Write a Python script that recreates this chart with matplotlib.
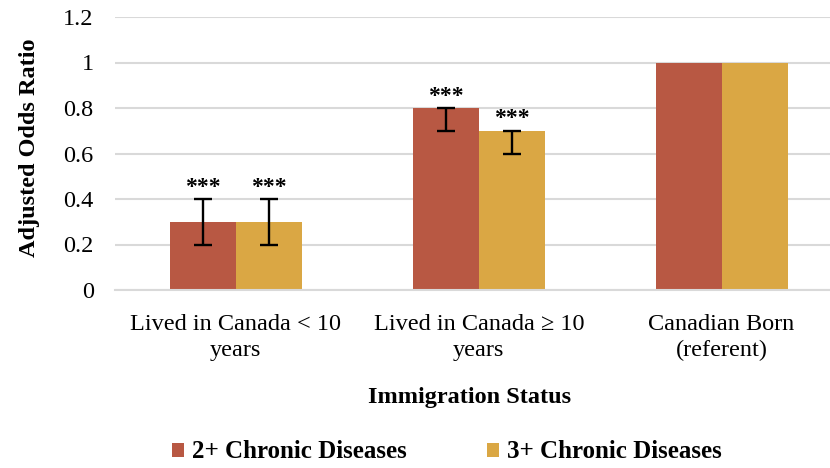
import matplotlib.pyplot as plt
import numpy as np

plt.rcParams['font.family'] = ['Liberation Serif', 'DejaVu Serif']

# Adjusted odds ratios by immigration status
categories = ['Lived in Canada < 10\nyears', 'Lived in Canada \u2265 10\nyears', 'Canadian Born\n(referent)']
series_names = ['2+ Chronic Diseases', '3+ Chronic Diseases']
odds_2plus = [0.3, 0.8, 1.0]
odds_3plus = [0.3, 0.7, 1.0]
# lower / upper error amounts (None = no bar)
err_low_2plus = [0.1, 0.1, None]
err_high_2plus = [0.1, 0.0, None]
err_low_3plus = [0.1, 0.1, None]
err_high_3plus = [0.1, 0.0, None]
sig_2plus = ['***', '***', '']
sig_3plus = ['***', '***', '']

colors = ['#B85843', '#DAA744']

fig = plt.figure(figsize=(8.3, 4.68), dpi=100)
ax = fig.add_axes([114.5 / 830, 1 - 290 / 468, 728.5 / 830, 273 / 468])

x = np.arange(len(categories))
width = 0.272

series = [
    (odds_2plus, err_low_2plus, err_high_2plus, sig_2plus),
    (odds_3plus, err_low_3plus, err_high_3plus, sig_3plus),
]
for i, (vals, lo, hi, sig) in enumerate(series):
    pos = x + (i - 0.5) * width
    ax.bar(pos, vals, width, color=colors[i], label=series_names[i], zorder=2)
    for p, v, l, h, s in zip(pos, vals, lo, hi, sig):
        if l is None:
            continue
        ax.errorbar(p, v, yerr=[[l], [h]], fmt='none', ecolor='black',
                    elinewidth=1.7, capsize=6.5, capthick=1.7, zorder=3)
        ax.annotate(s, (p, v + h), xytext=(0, 1), textcoords='offset points',
                    ha='center', va='bottom', fontsize=17, fontweight='bold')

ax.set_xlim(-0.5, 2.5)
ax.set_ylim(0, 1.2)
ax.set_yticks(np.arange(0, 1.21, 0.2))
ax.set_yticklabels(['0', '0.2', '0.4', '0.6', '0.8', '1', '1.2'])
ax.set_xticks(x)
ax.set_xticklabels(categories, fontsize=17.5, linespacing=1.35)
ax.tick_params(axis='y', labelsize=17.5, length=0, pad=15)
ax.tick_params(axis='x', length=0, pad=17)
ax.yaxis.grid(True, color='#D9D9D9', linewidth=1.5, zorder=0)
ax.set_axisbelow(True)
for side in ['top', 'right', 'left']:
    ax.spines[side].set_visible(False)
ax.spines['bottom'].set_color('#D9D9D9')
ax.spines['bottom'].set_linewidth(1.5)

fig.text(30 / 830, 1 - 148 / 468, 'Adjusted Odds Ratio', rotation=90,
         ha='center', va='center', fontsize=17.5, fontweight='bold')
fig.text(470 / 830, 1 - 398 / 468, 'Immigration Status',
         ha='center', va='center', fontsize=17.5, fontweight='bold')

fig.legend(loc='center', bbox_to_anchor=(446.5 / 830, 1 - 452 / 468), ncol=2,
           frameon=False, prop={'size': 18, 'weight': 'bold'},
           handlelength=0.5, handleheight=0.5, handletextpad=0.3,
           columnspacing=3.2)

fig.savefig('out.png', dpi=100)
